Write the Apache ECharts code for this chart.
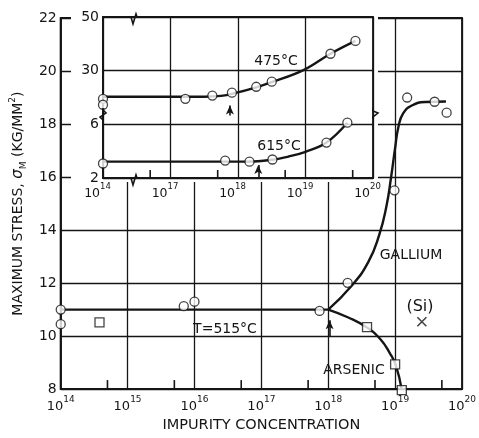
<!DOCTYPE html>
<html><head><meta charset="utf-8">
<script src="https://cdn.jsdelivr.net/npm/echarts@6/dist/echarts.min.js"></script>
<style>html,body{margin:0;padding:0;background:#fff}#c{width:479px;height:438px}</style>
</head><body><div id="c"></div>
<script>
// ---------- DATA (x = log10 of impurity concentration, y = stress kg/mm^2) ----------
const mainXTicks = [14, 15, 16, 17, 18, 19, 20];
const mainMinorTicks = [14.699, 15.699, 16.699, 17.699, 18.699, 19.699];
const mainYTicks = [8, 10, 12, 14, 16, 18, 20, 22];

// T = 515 C main curve
const line515 = [[14, 11.0], [18.0, 11.0]];
const galliumCurve = [[18.0, 11.0], [18.35, 11.9], [18.6, 12.8], [18.76, 13.8], [18.87, 14.9],
  [18.94, 16.0], [19.0, 17.1], [19.05, 17.9], [19.12, 18.4], [19.25, 18.7], [19.45, 18.83], [19.76, 18.85]];
const arsenicCurve = [[18.0, 11.0], [18.3, 10.7], [18.58, 10.32], [18.78, 9.88], [18.92, 9.36],
  [19.01, 8.9], [19.1, 7.96]];
const circlePoints = [[14, 11.0], [14, 10.45], [15.84, 11.13], [16.0, 11.3], [17.87, 10.95],
  [18.29, 12.01], [18.99, 15.5], [19.18, 19.0], [19.59, 18.84], [19.77, 18.43]];
const squarePoints = [[14.58, 10.52], [18.58, 10.34], [19.0, 8.93], [19.1, 7.96]];
const siliconPoint = [[19.4, 10.54]];
const mainArrow = [18.02, 9.98, 10.6]; // x, from, to

// Inset (475 C and 615 C)
const insetXTicks = [16, 17, 18, 19, 20];
const insetXTickLabels = ['14', '17', '18', '19', '20'];
const insetMinorTicks = [16.699, 17.699, 18.699, 19.699];
const insetYTickLabels = ['2', '6', '30', '50']; // at axis positions 16,18,20,22
const inset475X = [14, 14, 17.22, 17.62, 17.91, 18.27, 18.5, 19.37, 19.74];
const inset475Y = [19.5, 17.3, 19.5, 20.7, 21.8, 24.0, 25.9, 36.3, 41.1];
const inset615X = [14, 17.81, 18.17, 18.51, 19.31, 19.62];
const inset615Y = [3.08, 3.3, 3.22, 3.38, 4.64, 6.12];
const curve475 = [[14, 20.3], [17.5, 20.3], [17.75, 20.6], [17.95, 21.6], [18.27, 23.8], [18.5, 25.7],
  [18.97, 30.2], [19.37, 36.3], [19.74, 41.1]];
const curve615 = [[14, 3.22], [18.15, 3.22], [18.5, 3.36], [18.75, 3.6], [19.0, 3.95], [19.31, 4.64], [19.62, 6.12]];
const arrow475 = [17.88, 13.3, 17.0];
const arrow615 = [18.3, 2.0, 2.96];

// ---------- helpers: broken inset scales ----------
const ix = e => (e <= 14 ? 16 : e);                       // 10^14 sits at the break
const iy = v => (v >= 10 ? 20 + (v - 30) / 10 : 16 + (v - 2) / 2);
const toInset = pts => pts.map(p => [ix(p[0]), iy(p[1])]);
const zipInset = (xs, ys) => xs.map((x, i) => [ix(x), iy(ys[i])]);

const FONT = 'DejaVu Sans';
const INK = '#151515';
const supRich = (b, s) => ({
  b: { fontSize: b, fontFamily: FONT, color: INK, lineHeight: 18, verticalAlign: 'bottom' },
  s: { fontSize: s, fontFamily: FONT, color: INK, lineHeight: 9, verticalAlign: 'top' }
});

const IL = 103, IT = 17, IW = 270, IH = 161;

const openCircle = { color: '#fff', borderColor: INK, borderWidth: 1.3 };
const thick = { color: INK, width: 2.4 };
const arrowPair = (x, y1, y2) => [{ coord: [x, y1], symbol: 'none' }, { coord: [x, y2], symbol: 'arrow', symbolSize: [6, 9] }];
const markLines = (data) => ({
  silent: true, animation: false, symbol: ['none', 'arrow'], symbolSize: [6, 9],
  lineStyle: { color: INK, width: 1.6, type: 'solid' }, label: { show: false }, data
});

let gid = 0;
const zig = (pts) => ({ id: 'g' + (gid++), type: 'polyline', z: 10, shape: { points: pts },
  style: { stroke: INK, lineWidth: 1.6, fill: null } });
const txt = (x, y, t, size) => ({ id: 'g' + (gid++), type: 'text', x, y, z: 10,
  style: { text: t, font: (size || 14) + 'px "' + FONT + '"', fill: INK, align: 'center', verticalAlign: 'middle' } });

const option = {
  animation: false,
  backgroundColor: '#fff',
  textStyle: { fontFamily: FONT },
  grid: [
    { left: 56, right: 16, top: 18, bottom: 43, show: true, borderColor: INK, borderWidth: 1.8, z: 0 },
    { left: IL, top: IT, width: IW, height: IH, show: true, borderColor: INK, borderWidth: 1.8, z: 3 }
  ],
  xAxis: [
    { gridIndex: 0, type: 'value', min: 14, max: 20, interval: 1,
      axisLine: { show: true, lineStyle: { color: INK, width: 1.8 } },
      axisTick: { show: false },
      splitLine: { show: true, lineStyle: { color: INK, width: 1.3 } },
      axisLabel: { margin: 6, formatter: v => '{b|10}{s|' + v + '}', rich: supRich(13, 9) },
      name: 'IMPURITY CONCENTRATION', nameLocation: 'middle', nameGap: 27,
      nameTextStyle: { fontSize: 14.5, color: INK, fontFamily: FONT } },
    { gridIndex: 1, type: 'value', min: 16, max: 20, interval: 1, z: 3,
      axisLine: { show: true, lineStyle: { color: INK, width: 1.8 } },
      axisTick: { show: false },
      splitLine: { show: true, lineStyle: { color: INK, width: 1.3 } },
      axisLabel: { margin: 4, padding: [0, 11, 0, 0],
        formatter: v => '{b|10}{s|' + insetXTickLabels[insetXTicks.indexOf(v)] + '}',
        rich: supRich(12.5, 8.5) } }
  ],
  yAxis: [
    { gridIndex: 0, type: 'value', min: 8, max: 22, interval: 2,
      axisLine: { show: true, lineStyle: { color: INK, width: 1.8 } },
      axisTick: { show: false },
      splitLine: { show: true, lineStyle: { color: INK, width: 1.3 } },
      axisLabel: { margin: 4, fontSize: 14, color: INK, fontFamily: FONT },
      name: 'MAXIMUM STRESS, {g|σ}{m|M} (KG/MM{p|2})', nameLocation: 'middle', nameGap: 25,
      nameTextStyle: { fontSize: 14, color: INK, fontFamily: FONT, lineHeight: 20,
        rich: {
          g: { fontSize: 15, fontStyle: 'italic', fontFamily: FONT, color: INK, lineHeight: 20 },
          m: { fontSize: 9, fontFamily: FONT, color: INK, lineHeight: 9, verticalAlign: 'bottom' },
          p: { fontSize: 9, fontFamily: FONT, color: INK, lineHeight: 9, verticalAlign: 'top' }
        } } },
    { gridIndex: 1, type: 'value', min: 16, max: 22, interval: 2, z: 3,
      axisLine: { show: true, lineStyle: { color: INK, width: 1.8 } },
      axisTick: { show: false },
      splitLine: { show: true, lineStyle: { color: INK, width: 1.3 } },
      axisLabel: { margin: 4, fontSize: 14, color: INK, fontFamily: FONT,
        formatter: v => insetYTickLabels[(v - 16) / 2] } }
  ],
  graphic: {
    elements: [
      { id: 'whiteout', type: 'rect', z: 1, shape: { x: 71, y: 3, width: 307, height: 179 }, style: { fill: '#fff' } },
      // axis breaks on the inset frame
      zig([[IL + 25, IT], [IL + 28, IT], [IL + 30, IT + 7], [IL + 33, IT - 3], [IL + 34, IT]]),
      zig([[IL + 25, IT + IH], [IL + 28, IT + IH], [IL + 30, IT + IH + 7], [IL + 33, IT + IH - 3], [IL + 34, IT + IH]]),
      zig([[IL, 108], [IL, 110], [IL + 3, 113], [IL - 3, 117], [IL, 120]]),
      zig([[IL + IW, 108], [IL + IW, 111], [IL + IW + 5, 113], [IL + IW, 117], [IL + IW, 119]]),
      txt(276, 61, '475°C'),
      txt(279, 146, '615°C'),
      txt(411, 255, 'GALLIUM'),
      txt(225, 329, 'T=515°C'),
      txt(354, 370, 'ARSENIC'),
      txt(420, 307, '(Si)', 16)
    ]
  },
  series: [
    { type: 'line', xAxisIndex: 0, yAxisIndex: 0, data: line515, showSymbol: false, lineStyle: thick, z: 2,
      clip: false, markLine: markLines([arrowPair(mainArrow[0], mainArrow[1], mainArrow[2])]) },
    { type: 'line', xAxisIndex: 0, yAxisIndex: 0, data: galliumCurve, showSymbol: false, smooth: 0.5,
      lineStyle: thick, z: 2, clip: false },
    { type: 'line', xAxisIndex: 0, yAxisIndex: 0, data: arsenicCurve, showSymbol: false, smooth: 0.5,
      lineStyle: thick, z: 2, clip: false },
    { type: 'scatter', xAxisIndex: 0, yAxisIndex: 0, data: circlePoints, symbol: 'circle', symbolSize: 9,
      itemStyle: openCircle, z: 3, clip: false },
    { type: 'scatter', xAxisIndex: 0, yAxisIndex: 0, data: squarePoints, symbol: 'rect', symbolSize: 9,
      itemStyle: openCircle, z: 3, clip: false },
    { type: 'scatter', xAxisIndex: 0, yAxisIndex: 0, data: siliconPoint, symbol: 'path://M0 0L10 10M10 0L0 10',
      symbolSize: 9, itemStyle: { color: 'none', borderColor: INK, borderWidth: 1.6 }, z: 3, clip: false },
    // inset
    { type: 'line', xAxisIndex: 1, yAxisIndex: 1, data: toInset(curve475), showSymbol: false, smooth: 0.4,
      lineStyle: thick, z: 4, clip: false,
      markLine: markLines([arrowPair(ix(arrow475[0]), iy(arrow475[1]), iy(arrow475[2])),
        arrowPair(ix(arrow615[0]), iy(arrow615[1]), iy(arrow615[2]))]) },
    { type: 'line', xAxisIndex: 1, yAxisIndex: 1, data: toInset(curve615), showSymbol: false, smooth: 0.4,
      lineStyle: thick, z: 4, clip: false },
    { type: 'scatter', xAxisIndex: 1, yAxisIndex: 1, data: zipInset(inset475X, inset475Y), symbol: 'circle',
      symbolSize: 9, itemStyle: openCircle, z: 5, clip: false },
    { type: 'scatter', xAxisIndex: 1, yAxisIndex: 1, data: zipInset(inset615X, inset615Y), symbol: 'circle',
      symbolSize: 9, itemStyle: openCircle, z: 5, clip: false }
  ]
};

const chart = echarts.init(document.getElementById('c'), null, { renderer: 'canvas' });
chart.setOption(option);

// short upward ticks at 5 x 10^n, placed through the axes' own scales
const tickEls = [];
const addTicks = (finder, xs, y0, len) => {
  xs.forEach((x, i) => {
    const p = chart.convertToPixel(finder, [x, y0]);
    if (!p) return;
    tickEls.push({ id: 'tk' + tickEls.length, type: 'line', z: 12,
      shape: { x1: p[0], y1: p[1], x2: p[0], y2: p[1] - len },
      style: { stroke: INK, lineWidth: 1.6 } });
  });
};
addTicks({ xAxisIndex: 0, yAxisIndex: 0 }, mainMinorTicks, 8, 9);
addTicks({ xAxisIndex: 1, yAxisIndex: 1 }, insetMinorTicks, 16, 8);
chart.setOption({ graphic: { elements: tickEls } });
</script>
</body></html>
